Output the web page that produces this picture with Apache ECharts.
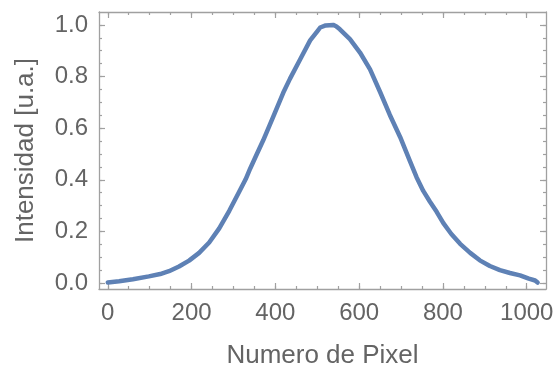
<!DOCTYPE html>
<html>
<head>
<meta charset="utf-8">
<script src="https://cdn.jsdelivr.net/npm/echarts@6/dist/echarts.min.js"></script>
<style>html,body{margin:0;padding:0;background:#fff}#c{width:559px;height:374px}</style>
</head>
<body>
<div id="c"></div>
<script>
var pixel = [0, 27, 60, 98, 125, 146, 170, 194, 218, 242, 266, 290, 313, 329, 340, 355, 371, 395, 419, 435, 459, 483, 500, 507, 520, 538, 545, 554, 578, 602, 626, 650, 673, 698, 721, 737, 753, 769, 785, 801, 820, 841, 865, 888, 912, 936, 960, 984, 1005, 1020, 1026];
var intensidad = [0.002, 0.007, 0.015, 0.026, 0.035, 0.046, 0.064, 0.087, 0.117, 0.157, 0.212, 0.28, 0.352, 0.402, 0.444, 0.497, 0.553, 0.645, 0.738, 0.792, 0.866, 0.94, 0.975, 0.99, 0.998, 1.0, 0.995, 0.983, 0.945, 0.893, 0.828, 0.74, 0.652, 0.565, 0.473, 0.41, 0.357, 0.315, 0.276, 0.232, 0.19, 0.152, 0.117, 0.088, 0.066, 0.05, 0.039, 0.03, 0.017, 0.01, 0.002];
var xTicks = [0, 200, 400, 600, 800, 1000];
var xMinor = [0, 50, 100, 150, 200, 250, 300, 350, 400, 450, 500, 550, 600, 650, 700, 750, 800, 850, 900, 950, 1000];
var yTicks = [0, 0.2, 0.4, 0.6, 0.8, 1.0];
var yMinor = [0, 0.05, 0.1, 0.15, 0.2, 0.25, 0.3, 0.35, 0.4, 0.45, 0.5, 0.55, 0.6, 0.65, 0.7, 0.75, 0.8, 0.85, 0.9, 0.95, 1.0];

var data = pixel.map(function (p, i) { return [p, intensidad[i]]; });
var FONT = 'Liberation Sans';
var TXT = '#646464';
var LINE = '#a0a0a0';
var TICK = '#a0a0a0';
var XMIN = -21, XMAX = 1046, YMIN = -0.023, YMAX = 1.05;

function xAx(pos, labels, ticks, len, showLine) {
  return {
    type: 'value', position: pos, min: XMIN, max: XMAX, offset: 0,
    axisLine: { show: showLine, onZero: false, lineStyle: { color: LINE, width: 1.3 } },
    axisTick: { show: true, inside: true, length: len, customValues: ticks, lineStyle: { color: TICK, width: 1.2 } },
    axisLabel: labels ? { show: true, customValues: xTicks, margin: 12, color: TXT, fontFamily: FONT, fontSize: 24,
      formatter: function (v) { return String(v); } } : { show: false },
    splitLine: { show: false }
  };
}
function yAx(pos, labels, ticks, len, showLine) {
  return {
    type: 'value', position: pos, min: YMIN, max: YMAX, offset: 0,
    axisLine: { show: showLine, onZero: false, lineStyle: { color: LINE, width: 1.3 } },
    axisTick: { show: true, inside: true, length: len, customValues: ticks, lineStyle: { color: TICK, width: 1.2 } },
    axisLabel: labels ? { show: true, customValues: yTicks, margin: 11, color: TXT, fontFamily: FONT, fontSize: 24,
      formatter: function (v) { return v.toFixed(1); } } : { show: false },
    splitLine: { show: false }
  };
}

var xa0 = xAx('bottom', true, xTicks, 6, true);
xa0.name = 'Numero de Pixel';
xa0.nameLocation = 'middle';
xa0.nameGap = 54;
xa0.nameTextStyle = { color: TXT, fontFamily: FONT, fontSize: 26 };
var ya0 = yAx('left', true, yTicks, 6, true);
ya0.name = 'Intensidad [u.a.]';
ya0.nameLocation = 'middle';
ya0.nameGap = 60;
ya0.nameTextStyle = { color: TXT, fontFamily: FONT, fontSize: 26 };

var chart = echarts.init(document.getElementById('c'), null, { renderer: 'canvas' });
chart.setOption({
  animation: false,
  backgroundColor: '#fff',
  grid: { left: 99, right: 13, top: 12, bottom: 82, containLabel: false },
  xAxis: [xa0, xAx('bottom', false, xMinor, 3, false), xAx('top', false, xTicks, 6, true), xAx('top', false, xMinor, 3, false)],
  yAxis: [ya0, yAx('left', false, yMinor, 3, false), yAx('right', false, yTicks, 6, true), yAx('right', false, yMinor, 3, false)],
  series: [{
    type: 'line', xAxisIndex: 0, yAxisIndex: 0, data: data, showSymbol: false, smooth: false,
    lineStyle: { color: '#5E81B5', width: 4.5, join: 'round', cap: 'round' }
  }]
});
</script>
</body>
</html>
